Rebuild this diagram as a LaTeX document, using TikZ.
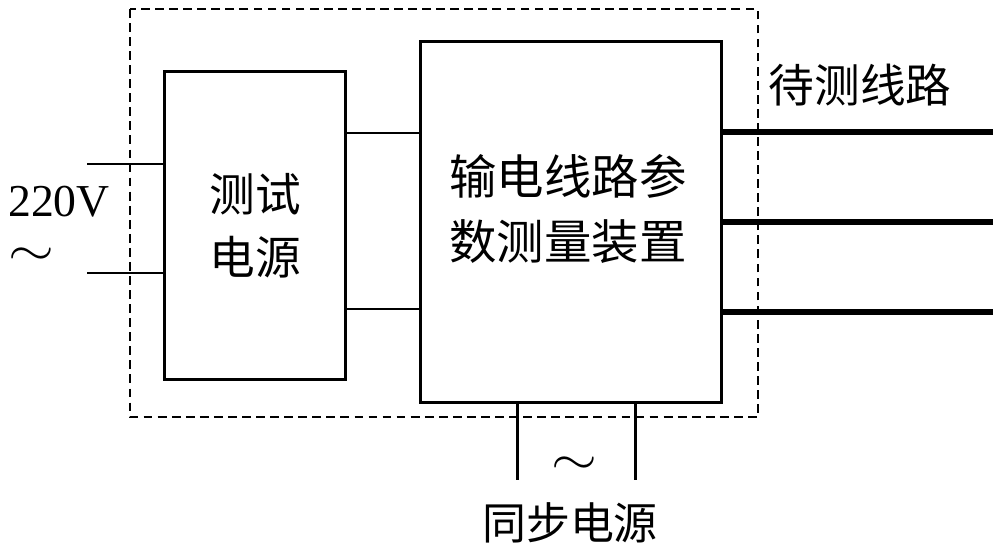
\documentclass[tikz,border=0pt]{standalone}
\usepackage{fontspec}
\setmainfont{Liberation Serif}
\newfontfamily\cjk{Noto Sans CJK SC}
\usetikzlibrary{positioning}

\tikzset{
  blk/.style={draw, line width=1.7pt, inner sep=0pt},
  wire/.style={line width=1.7pt},
  busline/.style={line width=3.4pt},
  frame/.style={line width=0.8pt, dash pattern=on 5pt off 3pt},
  zh/.style={font=\cjk\fontsize{26}{36}\selectfont, align=center},
  tilde/.style={font=\fontsize{24}{24}\selectfont, inner sep=0pt, text height=0.5em, text depth=0pt, xscale=1.35, yscale=1.1},
}

\begin{document}
\begin{tikzpicture}[x=0.02cm, y=-0.02cm]
\useasboundingbox (0,0) rectangle (1000,553);
\draw[frame] (130,9) rectangle (758,417);
\node[blk, zh, minimum width=3.64cm, minimum height=6.18cm] (src) at (255,225.5) {测试\\电源};
\node[blk, minimum width=6.04cm, minimum height=7.24cm] (meas) at (571,222) {};
\node[zh, font=\cjk\fontsize{27}{37}\selectfont] (measname) at (568,209) {输电线路参\\数测量装置};
% mains input
\coordinate (acA) at (87,164);
\coordinate (acB) at (87,273);
\draw[wire] (acA) -- (acA -| src.west);
\draw[wire] (acB) -- (acB -| src.west);
\node[font=\fontsize{26}{30}\selectfont, inner sep=0pt] (volt) at (59,202) {220V};
\node[tilde] (acsym) at (31,261) {$\sim$};
% test source to device
\coordinate (lnkA) at (0,133);
\coordinate (lnkB) at (0,309);
\draw[wire] (src.east |- lnkA) -- (meas.west |- lnkA);
\draw[wire] (src.east |- lnkB) -- (meas.west |- lnkB);
% line under test
\foreach \y/\n in {132/1, 222/2, 312/3}{
  \coordinate (out\n) at (993,\y);
  \draw[busline] (meas.east |- out\n) -- (out\n);
}
\node[zh] (linename) at (860,85) {待测线路};
% sync supply
\coordinate (syncA) at (517,480);
\coordinate (syncB) at (635,480);
\draw[wire] (meas.south -| syncA) -- (syncA);
\draw[wire] (meas.south -| syncB) -- (syncB);
\node[tilde] (syncsym) at (574,470) {$\sim$};
\node[zh, font=\cjk\fontsize{25}{30}\selectfont] (syncname) at (570,523) {同步电源};
\end{tikzpicture}
\end{document}
